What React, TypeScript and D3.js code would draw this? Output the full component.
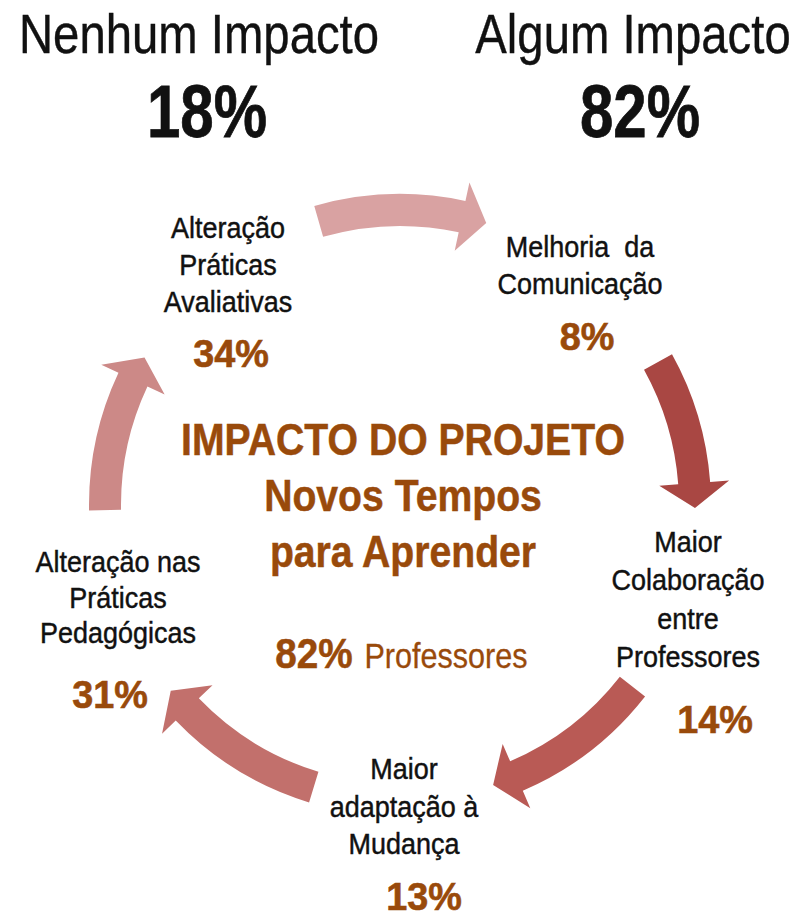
import React from 'react'
import * as d3 from 'd3'

// categories (clockwise, starting at the top arrow)
const steps = [
  ['Melhoria  da', 'Comunicação'],
  ['Maior', 'Colaboração', 'entre', 'Professores'],
  ['Maior', 'adaptação à', 'Mudança'],
  ['Alteração nas', 'Práticas', 'Pedagógicas'],
  ['Alteração', 'Práticas', 'Avaliativas'],
]
const stepValues = [8, 14, 13, 31, 34]

const headerLabels = ['Nenhum Impacto', 'Algum Impacto']
const headerValues = [18, 82]

const titleLines = ['IMPACTO DO PROJETO', 'Novos Tempos', 'para Aprender']
const teacherShare = 82
const teacherLabel = 'Professores'

// layout
const W = 799
const H = 918
const cx = 400
const cy = 505
const R = 295
const band = 32
const headW = 70
const headL = 25
const arrowFrom = [-106, -29, 38, 107, 179]
const arrowTo = [-73, 0.6, 71.6, 141, 210]
const arrowColors = ['#d9a2a2', '#a94743', '#b95a55', '#c2706c', '#cc8987']
const labelPos = [
  { x: 580, y: 257, gap: 36.5, px: 587, py: 350 },
  { x: 688, y: 552, gap: 38.3, px: 715, py: 733 },
  { x: 404, y: 779, gap: 37.5, px: 424, py: 910 },
  { x: 118, y: 572, gap: 35.5, px: 110, py: 708 },
  { x: 228, y: 238, gap: 36.8, px: 231, py: 367 },
]
const headerX = [199, 633]
const headerPctX = [207, 640]
const brown = '#994a0b'
const font = "'Liberation Sans', Arial, sans-serif"

const rad = d3.scaleLinear().domain([0, 180]).range([0, Math.PI])

function arrowPath(a0: number, a1: number) {
  const t0 = rad(a0)
  const t1 = rad(a1)
  const tb = t1 - headL / R
  const ro = R + band / 2
  const ri = R - band / 2
  const pt = (r: number, t: number) => [cx + r * Math.cos(t), cy + r * Math.sin(t)]
  const p = d3.path()
  const s = pt(ro, t0)
  p.moveTo(s[0], s[1])
  p.arc(cx, cy, ro, t0, tb, false)
  const h1 = pt(R + headW / 2, tb)
  const tip = pt(R, t1)
  const h2 = pt(R - headW / 2, tb)
  p.lineTo(h1[0], h1[1])
  p.lineTo(tip[0], tip[1])
  p.lineTo(h2[0], h2[1])
  p.arc(cx, cy, ri, tb, t0, true)
  p.closePath()
  return p.toString()
}

// condensed text: horizontal squeeze around the anchor
function T({ x, y, sx, size, bold, fill, heavy, children }: any) {
  return (
    <text
      transform={`translate(${x},${y}) scale(${sx},1)`}
      textAnchor="middle"
      fontSize={size}
      fontWeight={bold ? 'bold' : 'normal'}
      fill={fill}
      stroke={heavy ? fill : 'none'}
      strokeWidth={heavy || 0}
      style={{ whiteSpace: 'pre' }}
    >
      {children}
    </text>
  )
}

export default function App() {
  return (
    <svg width={W} height={H} style={{ display: 'block', margin: '-8px 0 0 -8px', background: '#fff' }} fontFamily={font}>
      {arrowFrom.map((a, i) => (
        <path key={'a' + i} d={arrowPath(a, arrowTo[i])} fill={arrowColors[i]} />
      ))}

      {headerLabels.map((l, i) => (
        <g key={'h' + i}>
          <T x={headerX[i]} y={53} sx={0.86} size={55} fill="#111" heavy={0.4}>{l}</T>
          <T x={headerPctX[i]} y={137} sx={0.8} size={75} bold fill="#111" heavy={0.8}>{headerValues[i]}%</T>
        </g>
      ))}

      {steps.map((lines, i) => (
        <g key={'s' + i}>
          {lines.map((ln, j) => (
            <T key={j} x={labelPos[i].x} y={labelPos[i].y + j * labelPos[i].gap} sx={0.93} size={29} fill="#111" heavy={0.45}>{ln}</T>
          ))}
          <T x={labelPos[i].px} y={labelPos[i].py} sx={0.97} size={39} bold fill={brown} heavy={0.6}>{stepValues[i]}%</T>
        </g>
      ))}

      {titleLines.map((t, i) => (
        <T key={'t' + i} x={403} y={455 + i * 56} sx={0.89} size={44} bold fill={brown} heavy={0.5}>{t}</T>
      ))}
      <T x={314} y={668} sx={0.9} size={43} bold fill={brown} heavy={0.5}>{teacherShare}%</T>
      <T x={446} y={668} sx={0.85} size={36} fill={brown} heavy={0.3}>{teacherLabel}</T>
    </svg>
  )
}
